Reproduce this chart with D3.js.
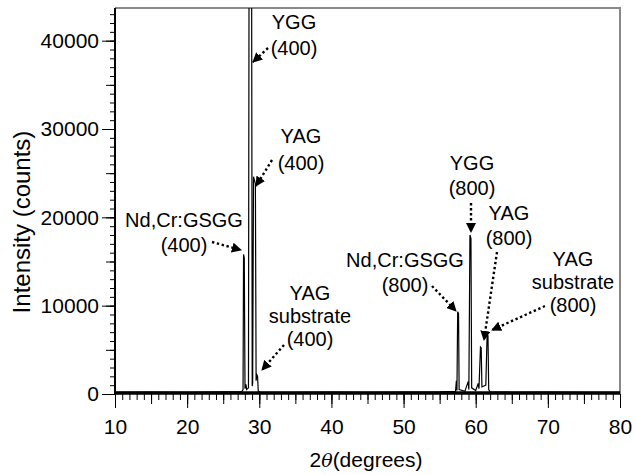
<!DOCTYPE html>
<html>
<head>
<meta charset="utf-8">
<script src="https://cdn.jsdelivr.net/npm/d3@7"></script>
<style>
body { margin: 0; background: #fff; }
text { font-family: "Liberation Sans", Arial, sans-serif; fill: #000; }
</style>
</head>
<body>
<div id="chart"></div>
<script>
// diffraction scan (2theta in degrees, intensity in counts)
const twoTheta = [10, 15, 20, 25, 27.6, 27.75, 27.82, 27.92, 28.02, 28.15, 28.25,
  28.5, 28.58, 28.94, 29.02, 29.08, 29.2, 29.46, 29.56, 29.62, 29.68, 29.76, 29.86,
  30.1, 35, 40, 45, 50, 55, 57.2, 57.32, 57.4, 57.5, 57.62, 57.7, 58.5, 58.95, 59.05,
  59.2, 59.34, 59.44, 60.0, 60.35, 60.45, 60.66, 60.76, 60.86, 61.4, 61.58, 61.7,
  61.8, 62.0, 65, 70, 75, 80];
const counts = [180, 220, 200, 230, 280, 500, 15800, 15400, 600, 1100, 500,
  700, 47000, 47000, 900, 1200, 24600, 23800, 1500, 1900, 2150, 2000, 300,
  220, 200, 210, 200, 220, 230, 300, 1500, 400, 9300, 9100, 500, 300, 1400, 500,
  18000, 17600, 700, 400, 1200, 600, 5300, 5200, 800, 1000, 6700, 6600,
  500, 250, 200, 210, 200, 200];

const xTicks = [10, 20, 30, 40, 50, 60, 70, 80];
const yTicks = [0, 10000, 20000, 30000, 40000];

const peakLabels = [
  ["YGG", "(400)"],
  ["YAG", "(400)"],
  ["Nd,Cr:GSGG", "(400)"],
  ["YAG", "substrate", "(400)"],
  ["YGG", "(800)"],
  ["YAG", "(800)"],
  ["Nd,Cr:GSGG", "(800)"],
  ["YAG", "substrate", "(800)"]
];

var width = 635,
    height = 475,
    mL = 115, mR = 620, mT = 8, mB = 394;

const svg = d3.select("#chart")
  .append("svg")
    .attr("width", width)
    .attr("height", height);

const x = d3.scaleLinear().domain([10, 80]).range([mL, mR]);
const y = d3.scaleLinear().domain([0, 43700]).range([mB, mT]);

const defs = svg.append("defs");
defs.append("clipPath").attr("id", "plot")
  .append("rect")
    .attr("x", mL).attr("y", mT)
    .attr("width", mR - mL).attr("height", mB - mT);

defs.append("marker")
    .attr("id", "head")
    .attr("viewBox", "0 0 10 10")
    .attr("refX", 9).attr("refY", 5)
    .attr("markerWidth", 4.2).attr("markerHeight", 4.2)
    .attr("markerUnits", "strokeWidth")
    .attr("orient", "auto")
  .append("path")
    .attr("d", "M0,0L10,5L0,10z")
    .attr("fill", "#000");

// frame: top and right in grey
svg.append("path")
  .attr("d", `M${mL},${mT}H${mR}V${mB}`)
  .attr("fill", "none")
  .attr("stroke", "#888")
  .attr("stroke-width", 2);

// x ticks: minor / middle / major
function xAxis(step, size, labels) {
  const g = svg.append("g")
    .attr("transform", `translate(0,${mB})`)
    .call(d3.axisBottom(x)
      .tickValues(labels ? xTicks : d3.range(10, 80.01, step))
      .tickSize(size)
      .tickPadding(9)
      .tickFormat(labels ? d3.format("d") : ""));
  g.select(".domain").remove();
  g.selectAll("line").attr("stroke", "#000");
  g.selectAll("text").attr("font-size", 21).attr("dy", "0.8em")
    .attr("font-family", null);
}
xAxis(1, 6, false);
xAxis(5, 10, false);
xAxis(10, 14, true);

function yAxis(step, size, labels) {
  const g = svg.append("g")
    .attr("transform", `translate(${mL},0)`)
    .call(d3.axisLeft(y)
      .tickValues(labels ? yTicks : d3.range(0, 43001, step))
      .tickSize(size)
      .tickPadding(3)
      .tickFormat(labels ? d3.format("d") : ""));
  g.select(".domain").remove();
  g.selectAll("line").attr("stroke", "#000");
  g.selectAll("text").attr("font-size", 21).attr("font-family", null);
}
yAxis(1000, 5, false);
yAxis(5000, 9, false);
yAxis(10000, 13, true);

// axis lines
svg.append("line")
  .attr("x1", mL).attr("x2", mL)
  .attr("y1", mT).attr("y2", mB + 1)
  .attr("stroke", "#000").attr("stroke-width", 2);
svg.append("line")
  .attr("x1", mL).attr("x2", mR)
  .attr("y1", mB - 1).attr("y2", mB - 1)
  .attr("stroke", "#000").attr("stroke-width", 3.5);

// scan line
const line = d3.line()
  .x((d, i) => x(twoTheta[i]))
  .y(d => y(d));

svg.append("path")
  .datum(counts)
  .attr("clip-path", "url(#plot)")
  .attr("fill", "none")
  .attr("stroke", "#000")
  .attr("stroke-width", 1.2)
  .attr("d", line);

// axis titles
svg.append("text")
  .attr("transform", "translate(30,222) rotate(-90)")
  .attr("text-anchor", "middle")
  .attr("font-size", 24)
  .text("Intensity (counts)");

const xt = svg.append("text")
  .attr("x", 366).attr("y", 467)
  .attr("text-anchor", "middle")
  .attr("font-size", 21);
xt.append("tspan").text("2");
xt.append("tspan").attr("font-style", "italic").attr("font-family", "DejaVu Serif")
  .attr("font-size", 19).text("θ");
xt.append("tspan").text("(degrees)");

// labels: text anchor (centre x, first baseline), line gap, arrow from -> to
const layout = [
  { cx: 294, by: 29, gap: 26, a: [268, 48, 253, 62] },
  { cx: 301, by: 143, gap: 27, a: [272, 160, 256, 186] },
  { cx: 184, by: 227, gap: 25, a: [212, 242, 241, 250] },
  { cx: 310, by: 300, gap: 23, a: [284, 345, 262, 370] },
  { cx: 472, by: 170, gap: 25, a: [471, 203, 471, 232] },
  { cx: 509, by: 220, gap: 25, a: [497, 252, 484, 340] },
  { cx: 405, by: 267, gap: 25, a: [432, 286, 456, 311] },
  { cx: 573, by: 266, gap: 23, a: [545, 306, 492, 330] }
];

peakLabels.forEach((lines, k) => {
  const L = layout[k];
  const t = svg.append("text")
    .attr("text-anchor", "middle")
    .attr("font-size", 20);
  lines.forEach((s, j) => {
    t.append("tspan").attr("x", L.cx).attr("y", L.by + j * L.gap).text(s);
  });
  svg.append("line")
    .attr("x1", L.a[0]).attr("y1", L.a[1])
    .attr("x2", L.a[2]).attr("y2", L.a[3])
    .attr("stroke", "#000")
    .attr("stroke-width", 2.4)
    .attr("stroke-dasharray", "2.4,2.6")
    .attr("marker-end", "url(#head)");
});
</script>
</body>
</html>
